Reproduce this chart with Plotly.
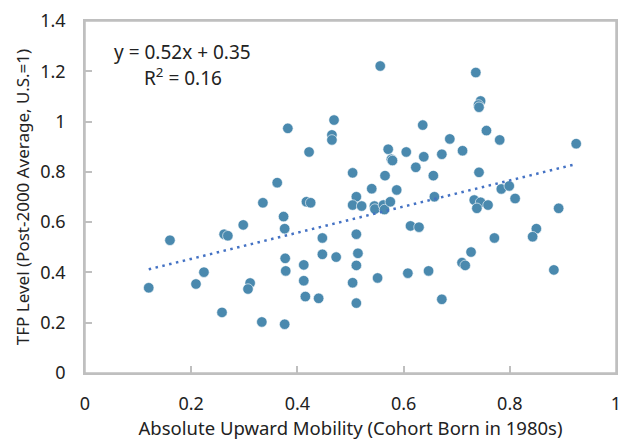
import plotly.graph_objects as go

mobility = [0.382, 0.469, 0.465, 0.465, 0.422, 0.362, 0.504, 0.556, 0.736, 0.745,
            0.741, 0.742, 0.636, 0.756, 0.687, 0.781, 0.925, 0.571, 0.605, 0.577,
            0.579, 0.638, 0.672, 0.711, 0.623, 0.565, 0.656, 0.742, 0.540, 0.587,
            0.784, 0.799, 0.511, 0.810, 0.658, 0.504, 0.521, 0.545, 0.546, 0.562,
            0.564, 0.575, 0.733, 0.745, 0.738, 0.759, 0.892, 0.613, 0.629, 0.511,
            0.771, 0.850, 0.843, 0.514, 0.727, 0.511, 0.710, 0.716, 0.608, 0.647,
            0.883, 0.551, 0.504, 0.511, 0.672, 0.335, 0.417, 0.425, 0.374, 0.298,
            0.376, 0.262, 0.269, 0.160, 0.447, 0.377, 0.412, 0.447, 0.473, 0.224,
            0.378, 0.209, 0.120, 0.311, 0.307, 0.412, 0.415, 0.440, 0.258, 0.333,
            0.376]
tfp = [0.973, 1.006, 0.947, 0.927, 0.879, 0.757, 0.796, 1.221, 1.195, 1.082,
       1.066, 1.057, 0.986, 0.964, 0.931, 0.927, 0.912, 0.890, 0.879, 0.850,
       0.845, 0.860, 0.870, 0.884, 0.818, 0.785, 0.785, 0.798, 0.733, 0.728,
       0.732, 0.744, 0.701, 0.694, 0.701, 0.668, 0.664, 0.664, 0.652, 0.668,
       0.650, 0.681, 0.688, 0.679, 0.655, 0.668, 0.655, 0.585, 0.580, 0.552,
       0.537, 0.574, 0.542, 0.476, 0.481, 0.428, 0.439, 0.428, 0.397, 0.406,
       0.410, 0.378, 0.359, 0.278, 0.293, 0.677, 0.681, 0.677, 0.622, 0.589,
       0.574, 0.552, 0.546, 0.528, 0.537, 0.456, 0.430, 0.472, 0.461, 0.401,
       0.406, 0.354, 0.339, 0.358, 0.334, 0.367, 0.304, 0.297, 0.241, 0.203,
       0.194]

slope = 0.52
intercept = 0.35
eq_text = "y = 0.52x + 0.35"
r2_text = "R<sup>2</sup> = 0.16"

x_ticks = [0, 0.2, 0.4, 0.6, 0.8, 1]
x_ticklabels = ["0", "0.2", "0.4", "0.6", "0.8", "1"]
y_ticks = [0, 0.2, 0.4, 0.6, 0.8, 1, 1.2, 1.4]
y_ticklabels = ["0", "0.2", "0.4", "0.6", "0.8", "1", "1.2", "1.4"]

x_title = "Absolute Upward Mobility (Cohort Born in 1980s)"
y_title = "TFP Level (Post-2000 Average, U.S.=1)"

FONT = "Noto Sans, Open Sans, sans-serif"
TXT = "#222222"
AX = "#BFBFBF"

fit_x = [min(mobility), max(mobility)]
fit_y = [slope * v + intercept for v in fit_x]

fig = go.Figure()
fig.add_trace(go.Scatter(
    x=mobility, y=tfp, mode="markers",
    marker=dict(size=10.5, color="#4A89AE", line=dict(color="white", width=0.6)),
    showlegend=False, hoverinfo="skip", cliponaxis=False))
fig.add_trace(go.Scatter(
    x=fit_x, y=fit_y, mode="lines",
    line=dict(color="#4472C4", width=2.5, dash="2.5px,4.5px"),
    showlegend=False, hoverinfo="skip"))

fig.add_annotation(x=0.184, y=1.277, xref="x", yref="y", text=eq_text,
                   showarrow=False, xanchor="center", yanchor="middle",
                   font=dict(family=FONT, size=19, color=TXT))
fig.add_annotation(x=0.184, y=1.177, xref="x", yref="y", text=r2_text,
                   showarrow=False, xanchor="center", yanchor="middle",
                   font=dict(family=FONT, size=19, color=TXT))

# plot-area frame
fig.add_shape(type="rect", xref="paper", yref="paper", x0=0, y0=0, x1=1, y1=1,
              line=dict(color=AX, width=1.5), layer="below")

fig.update_layout(
    width=618, height=442,
    margin=dict(l=85, r=2, t=21, b=69, autoexpand=False),
    paper_bgcolor="white", plot_bgcolor="white",
    font=dict(family=FONT, size=18, color=TXT),
    xaxis=dict(range=[0, 1], tickvals=x_ticks, ticktext=x_ticklabels,
               automargin=False, ticklabeloverflow="allow",
               showgrid=False, zeroline=False, showline=True, linecolor=AX,
               linewidth=1.5, mirror=True, ticks="inside", ticklen=7,
               tickcolor=AX, tickwidth=1.5, ticklabelstandoff=14,
               tickfont=dict(family=FONT, size=18, color=TXT),
               title=dict(text=x_title, standoff=4,
                          font=dict(family=FONT, size=18.5, color=TXT))),
    yaxis=dict(range=[0, 1.4], tickvals=y_ticks, ticktext=y_ticklabels,
               automargin=False, ticklabeloverflow="allow",
               showgrid=False, zeroline=False, showline=True, linecolor=AX,
               linewidth=1.5, mirror=True, ticks="inside", ticklen=7,
               tickcolor=AX, tickwidth=1.5, ticklabelstandoff=14,
               tickfont=dict(family=FONT, size=18, color=TXT),
               title=dict(text=y_title, standoff=6,
                          font=dict(family=FONT, size=17, color=TXT))),
)

fig.write_html(
    "out.html",
    config={"displayModeBar": False},
    post_script="document.body.style.margin='0';"
                "document.documentElement.style.overflow='hidden';",
)
